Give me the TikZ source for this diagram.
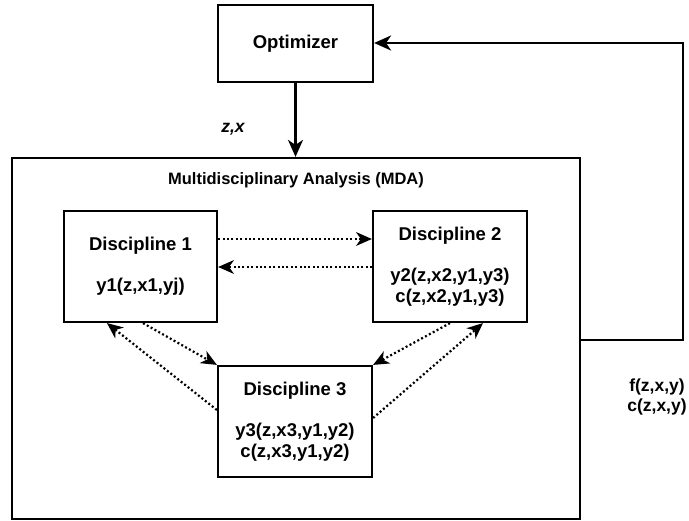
\documentclass[tikz,border=0pt]{standalone}
\usepackage{fontspec}
\setmainfont{Liberation Sans}
\usetikzlibrary{arrows.meta}
\begin{document}
\begin{tikzpicture}[x=1pt,y=-1pt,
  box/.style={draw, line width=2.2pt, inner sep=0pt, align=center, font=\bfseries\fontsize{18.5}{20.5}\selectfont},
  lbl/.style={inner sep=0pt, align=center, font=\bfseries\fontsize{17.5}{20}\selectfont},
  arr/.style={line width=2.2pt, -{Stealth[length=17pt,width=15pt,inset=5pt]}},
  dotarr/.style={line width=2.2pt, dash pattern=on 2pt off 2.4pt, -{Stealth[length=16pt,width=14pt,inset=5pt,line width=0pt]}}]
\useasboundingbox (0,0) rectangle (689,521);
\node[box, minimum width=155pt, minimum height=77pt] (opt) at (295.5,43.5) {Optimizer};
\node[box, minimum width=568pt, minimum height=361pt] (mda) at (296,338.5) {};
\node[lbl, font=\bfseries\fontsize{16.5}{20}\selectfont] (mdalbl) at (296,180) {Multidisciplinary Analysis (MDA)};
\node[box, minimum width=153pt, minimum height=111pt] (d1) at (140.5,266.5) {Discipline 1\\[20.5pt]y1(z,x1,yj)};
\node[box, minimum width=154pt, minimum height=111pt] (d2) at (450,266.5) {Discipline 2\\[20.5pt]y2(z,x2,y1,y3)\\c(z,x2,y1,y3)};
\node[box, minimum width=154pt, minimum height=111pt] (d3) at (295,421.5) {Discipline 3\\[20.5pt]y3(z,x3,y1,y2)\\c(z,x3,y1,y2)};
\node[lbl, font=\bfseries\itshape\fontsize{17.5}{20}\selectfont] (zx) at (233,129) {z,x};
\node[lbl] (fc) at (657,397) {f(z,x,y)\\c(z,x,y)};
\coordinate (fbr) at (683,340);
\coordinate (fbt) at (683,43);
\draw[arr] (opt.south) -- (opt.south |- mda.north);
\draw[arr] (mda.east |- fbr) -- (fbr) -- (fbt) -- (opt.east |- fbt);
\draw[dotarr] (d1.east |- 0,239) -- (d2.west |- 0,239);
\draw[dotarr] (d2.west |- 0,267) -- (d1.east |- 0,267);
\draw[dotarr] (d1.south -| 143,0) -- (d3.north west);
\draw[dotarr] (d3.west |- 0,410) -- (d1.south -| 107,0);
\draw[dotarr] (d2.south -| 450,0) -- (d3.north east);
\draw[dotarr] (d3.east |- 0,418) -- (d2.south -| 483,0);
\end{tikzpicture}
\end{document}
